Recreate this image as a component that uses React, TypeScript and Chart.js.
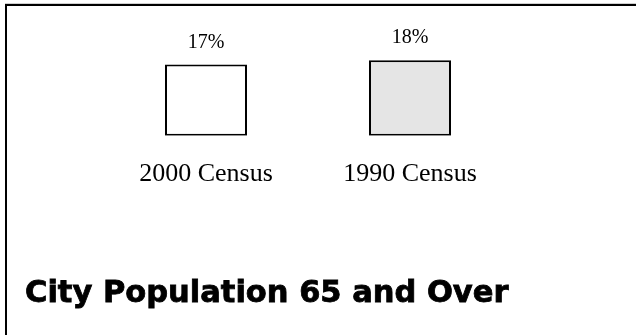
import React, { useEffect, useRef } from "react";
import { Chart, registerables } from "chart.js";

Chart.register(...registerables);

const categories = ["2000 Census", "1990 Census"];
const values = [17, 18];
const barColors = ["#ffffff", "#e5e5e5"];
const valueLabels = ["17%", "18%"];
const titleText = "City Population 65 and Over";

const framePlugin = {
  id: "frameAndTitle",
  beforeDraw(chart: any) {
    const ctx = chart.ctx;
    ctx.save();
    ctx.fillStyle = "#ffffff";
    ctx.fillRect(0, 0, chart.width, chart.height);
    ctx.fillStyle = "#cfcfcf";
    ctx.fillRect(5, 3, chart.width - 5, 1);
    ctx.fillStyle = "#000000";
    ctx.fillRect(5, 4, chart.width - 5, 2);
    ctx.fillRect(5, 4, 2, chart.height - 4);
    ctx.restore();
  },
  afterDraw(chart: any) {
    const ctx = chart.ctx;
    ctx.save();
    ctx.fillStyle = "#000000";
    ctx.strokeStyle = "#000000";
    ctx.lineWidth = 0.8;
    ctx.font = 'bold 30.5px "DejaVu Sans"';
    ctx.textAlign = "left";
    ctx.textBaseline = "alphabetic";
    ctx.fillText(titleText, 25, 302);
    ctx.strokeText(titleText, 25, 302);
    ctx.restore();
  },
};

const valueLabelPlugin = {
  id: "valueLabels",
  afterDatasetsDraw(chart: any) {
    const ctx = chart.ctx;
    const meta = chart.getDatasetMeta(0);
    ctx.save();
    ctx.fillStyle = "#000000";
    ctx.font = '20px "Liberation Serif"';
    ctx.textAlign = "center";
    ctx.textBaseline = "alphabetic";
    meta.data.forEach((bar: any, i: number) => {
      ctx.fillText(valueLabels[i], bar.x, bar.y - 17);
    });
    ctx.restore();
  },
};

export default function App() {
  const ref = useRef<HTMLCanvasElement | null>(null);
  useEffect(() => {
    if (!ref.current) return;
    const chart = new Chart(ref.current, {
      type: "bar",
      data: {
        labels: categories,
        datasets: [
          {
            data: values,
            backgroundColor: barColors,
            borderColor: "#000000",
            borderWidth: 2,
            borderSkipped: false,
            barPercentage: 82 / 204,
            categoryPercentage: 1,
          },
        ],
      },
      options: {
        responsive: false,
        animation: false,
        layout: { padding: { left: 104, right: 124, top: 10, bottom: 122 } },
        plugins: {
          legend: { display: false },
          tooltip: { enabled: false },
          title: { display: false },
        },
        scales: {
          y: { display: false, min: 0, max: 30 },
          x: {
            grid: { display: false, drawTicks: false },
            border: { display: false },
            ticks: {
              color: "#000000",
              font: { family: '"Liberation Serif"', size: 26 },
              padding: 23,
            },
          },
        },
      },
      plugins: [framePlugin, valueLabelPlugin],
    });
    return () => chart.destroy();
  }, []);
  return (
    <div style={{ position: "fixed", left: 0, top: 0, width: 636, height: 335, background: "#fff" }}>
      <canvas ref={ref} width={636} height={335} style={{ display: "block" }} />
    </div>
  );
}
